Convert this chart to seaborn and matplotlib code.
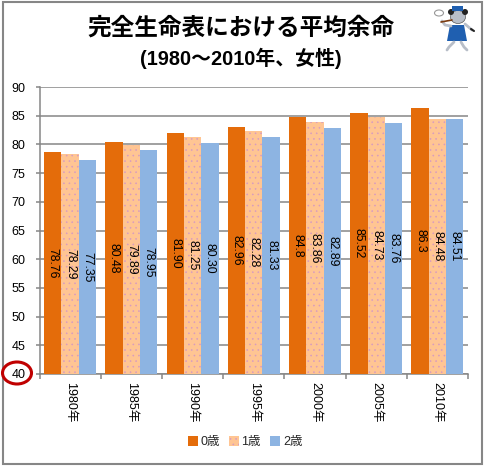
import matplotlib
matplotlib.use("Agg")
import matplotlib.pyplot as plt
from matplotlib.patches import Ellipse, Rectangle, Polygon
import pandas as pd
import seaborn as sns

years = ["1980年", "1985年", "1990年", "1995年", "2000年", "2005年", "2010年"]
age0 = [78.76, 80.48, 81.90, 82.96, 84.8, 85.52, 86.3]
age1 = [78.29, 79.89, 81.25, 82.28, 83.86, 84.73, 84.48]
age2 = [77.35, 78.95, 80.30, 81.33, 82.89, 83.76, 84.51]
labels0 = ["78.76", "80.48", "81.90", "82.96", "84.8", "85.52", "86.3"]
labels1 = ["78.29", "79.89", "81.25", "82.28", "83.86", "84.73", "84.48"]
labels2 = ["77.35", "78.95", "80.30", "81.33", "82.89", "83.76", "84.51"]
series = ["0歳", "1歳", "2歳"]
colors = ["#E46C0A", "#FFC593", "#8DB4E2"]
title = "完全生命表における平均余命"
subtitle = "(1980～2010年、女性)"

sns.set_theme(style="white")
plt.rcParams["font.family"] = ["Liberation Sans", "Noto Sans CJK JP", "DejaVu Sans"]
plt.rcParams["hatch.linewidth"] = 0.4
GRAY = "#868686"

df = pd.DataFrame({
    "year": years * 3,
    "age": [s for s in series for _ in years],
    "value": age0 + age1 + age2,
})

fig = plt.figure(figsize=(4.84, 4.66), dpi=100, facecolor="white")
W, H = 484, 466
ax = fig.add_axes([39.5 / W, 1 - 374 / H, (468 - 39.5) / W, (374 - 87) / H])

sns.barplot(data=df, x="year", y="value", hue="age", hue_order=series,
            palette=colors, saturation=1, width=0.85, gap=0, ax=ax,
            linewidth=0, errorbar=None, zorder=3)

ax.set_xlim(-0.5, 6.5)
ax.set_ylim(40, 90)
ax.set_yticks(range(40, 95, 5))
ax.set_xlabel("")
ax.set_ylabel("")
ax.grid(axis="y", color=GRAY, lw=1.1, zorder=0)
ax.set_axisbelow(True)
for side in ("top", "right"):
    ax.spines[side].set_visible(False)
for side in ("left", "bottom"):
    ax.spines[side].set_color(GRAY)
    ax.spines[side].set_linewidth(1.1)

ax.tick_params(axis="y", length=3, width=1.1, color=GRAY, labelsize=9,
               labelcolor="black", pad=7, left=True)
ax.set_xticks([i - 0.5 for i in range(8)], minor=True)
ax.tick_params(axis="x", which="minor", length=3.5, width=1.1, color=GRAY, bottom=True)
ax.tick_params(axis="x", which="major", length=0, labelsize=9, labelcolor="black",
               pad=6, bottom=False)
ax.set_xticks(range(len(years)))
ax.set_xticklabels(years, rotation=270, ha="center", va="top")

for cont, labs in zip(ax.containers, [labels0, labels1, labels2]):
    ax.bar_label(cont, labels=labs, label_type="center", rotation=270,
                 fontsize=8.8, color="black")

for patch in ax.containers[1]:
    patch.set_hatch("...")
    patch.set_edgecolor("#D79AC0")
    patch.set_linewidth(0)

handles, leg_labels = ax.get_legend_handles_labels()
if ax.get_legend():
    ax.get_legend().remove()
leg = fig.legend(handles, leg_labels, loc="center", bbox_to_anchor=(245 / W, 1 - 442 / H),
                 ncol=3, frameon=False, fontsize=9, handlelength=0.8, handleheight=0.8,
                 handletextpad=0.2, columnspacing=0.75, borderpad=0, borderaxespad=0)
for h in leg.legend_handles:
    h.set_linewidth(0)
leg.legend_handles[1].set_hatch("...")
leg.legend_handles[1].set_edgecolor("#D79AC0")

fig.text(241 / W, 1 - 28 / H, title, ha="center", va="center", fontsize=17,
         fontweight="bold", color="black")
fig.text(241 / W, 1 - 58 / H, subtitle, ha="center", va="center", fontsize=14.3,
         fontweight="bold", color="black")

# Overlay in pixel coordinates: outer frame, red circle and small mascot
ov = fig.add_axes([0, 0, 1, 1], facecolor="none")
ov.set_xlim(0, W)
ov.set_ylim(H, 0)
ov.axis("off")
ov.add_patch(Rectangle((2.5, 1.5), 479, 462.5, fill=False, ec=GRAY, lw=1.5))
ov.add_patch(Ellipse((17, 373), 29, 22, fill=False, ec="#C00000", lw=2.2))

grey = "#B8BEC8"
ov.plot([451, 445, 442], [26, 25, 21], color=grey, lw=2)
ov.plot([465, 472], [24, 30], color=grey, lw=2)
ov.plot([471, 474], [29, 31], color="#222222", lw=1.5)
ov.plot([454, 449, 447], [42, 47, 50], color=grey, lw=2)
ov.plot([461, 464, 467], [42, 47, 50], color=grey, lw=2)
ov.add_patch(Polygon([[450, 25], [464, 25], [467, 41], [447, 41]], fc="#1F5FB0", ec="none"))
ov.add_patch(Ellipse((458, 17), 15, 13, fc=grey, ec="#555555", lw=0.5))
ov.add_patch(Ellipse((451, 12), 6, 6, fc="#222222", ec="none"))
ov.add_patch(Ellipse((465, 12), 6, 6, fc="#222222", ec="none"))
ov.add_patch(Rectangle((452, 6), 11, 5, fc="#1F5FB0", ec="none"))
ov.plot([452, 441], [20, 22], color="#7A3B10", lw=1.2)
ov.add_patch(Ellipse((439, 13), 9, 6, fill=False, ec="#999999", lw=0.8))

fig.savefig("out.png", dpi=100, facecolor="white")
